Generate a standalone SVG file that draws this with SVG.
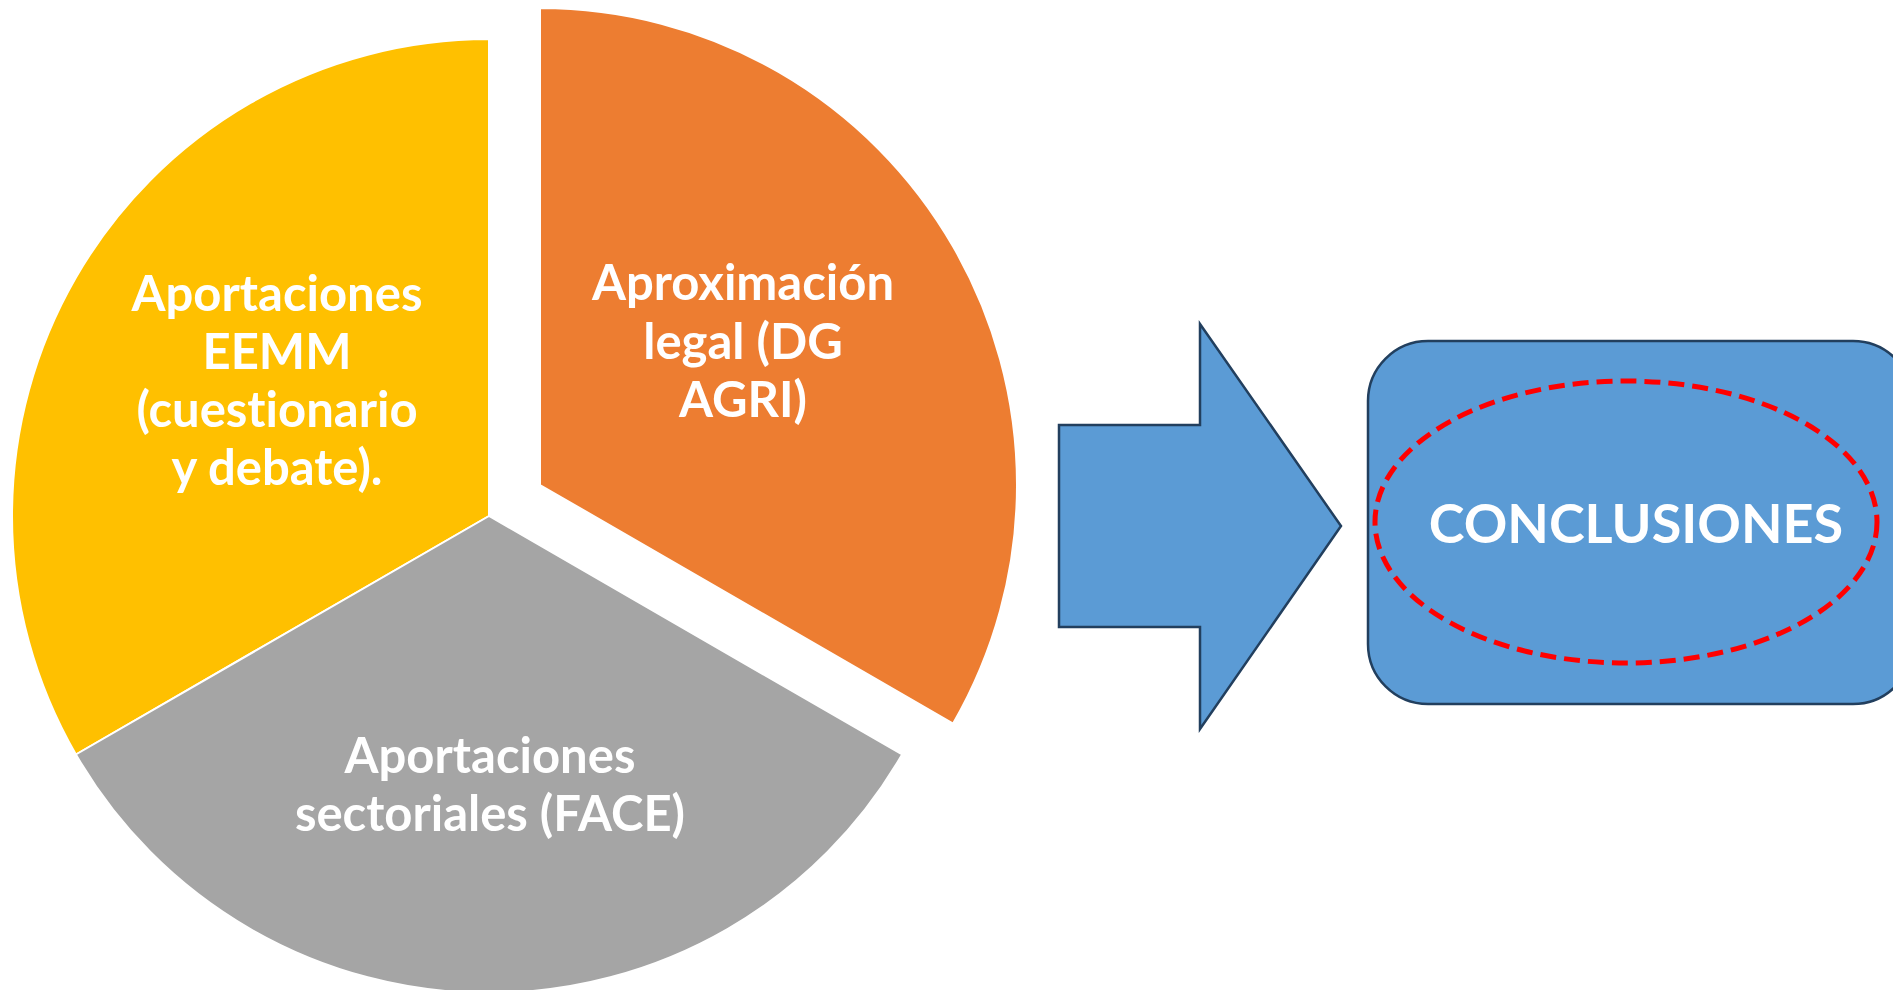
<svg xmlns="http://www.w3.org/2000/svg" width="1893" height="990" viewBox="0 0 1893 990">
<style>
.slice{stroke:#ffffff;stroke-width:2;stroke-linejoin:round}
.lbl{font-family:Lato,"Open Sans","Liberation Sans",sans-serif;font-weight:bold;fill:#ffffff;text-anchor:middle;font-variant-ligatures:none}
.pie{font-size:49px}
.blue{fill:#5B9BD5;stroke:#223F5E;stroke-width:2.5;stroke-linejoin:miter}
</style>
<rect width="1893" height="990" fill="#ffffff"/>
<g id="slice-eemm">
<path class="slice" fill="#FFC000" d="M489,516 L75.9,754.5 A477,477 0 0,1 489,39 Z"/>
<text class="lbl pie" x="277" y="311">Aportaciones</text>
<text class="lbl pie" x="277" y="369">EEMM</text>
<text class="lbl pie" x="277" y="427">(cuestionario</text>
<text class="lbl pie" x="277" y="485">y debate).</text>
</g>
<g id="slice-face">
<path class="slice" fill="#A5A5A5" d="M489,516 L902.1,754.5 A477,477 0 0,1 75.9,754.5 Z"/>
<text class="lbl pie" x="490" y="773">Aportaciones</text>
<text class="lbl pie" x="490" y="831">sectoriales (FACE)</text>
</g>
<g id="slice-legal">
<path class="slice" fill="#ED7D31" d="M540,485 L540,8 A477,477 0 0,1 953.1,723.5 Z"/>
<text class="lbl pie" x="743" y="300">Aproximación</text>
<text class="lbl pie" x="743" y="359">legal (DG</text>
<text class="lbl pie" x="743" y="417">AGRI)</text>
</g>
<g id="connectors">
<path class="blue" d="M1059,425 L1200,425 L1200,324 L1341,526 L1200,729 L1200,627 L1059,627 Z"/>
</g>
<g id="conclusiones">
<rect class="blue" x="1368" y="341" width="545" height="363" rx="60" ry="60"/>
<ellipse cx="1626" cy="522" rx="251" ry="141" fill="none" stroke="#FF0000" stroke-width="5" stroke-dasharray="16 8"/>
<text class="lbl" x="1636" y="543" font-size="54">CONCLUSIONES</text>
</g>
</svg>
